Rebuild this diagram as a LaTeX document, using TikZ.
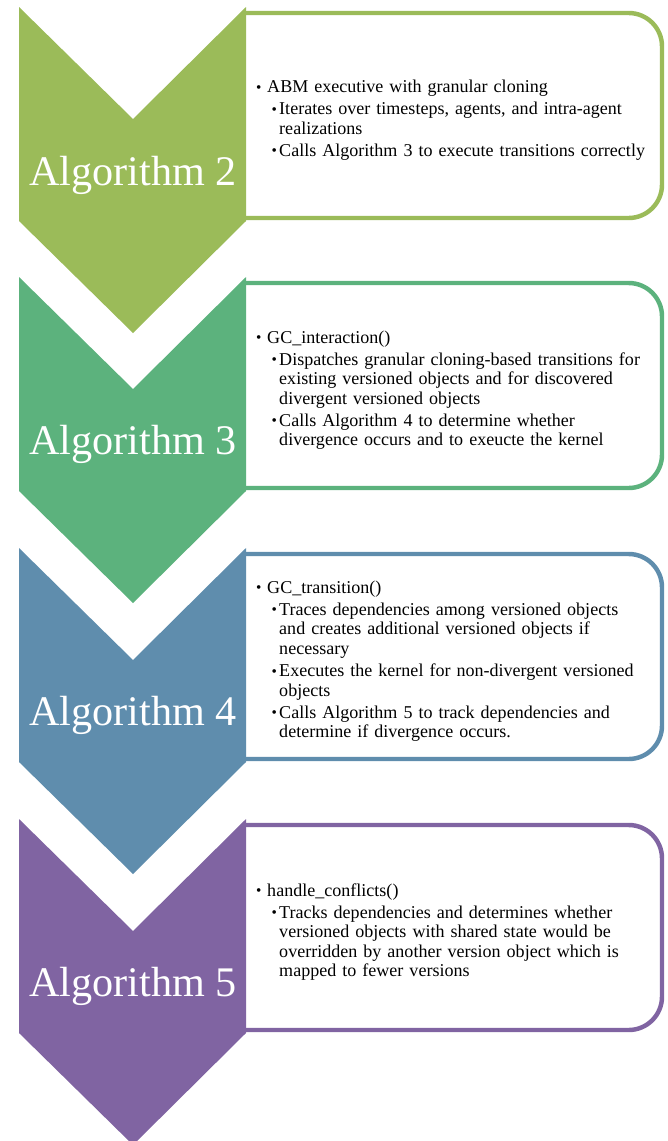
\documentclass[tikz,border=0pt]{standalone}
\usepackage{fontspec}
\setmainfont{Liberation Serif}
\usepackage{tikz}

\definecolor{algtwo}{HTML}{9BBB59}
\definecolor{algthree}{HTML}{5CB27D}
\definecolor{algfour}{HTML}{5F8DAD}
\definecolor{algfive}{HTML}{8064A2}

% bullet levels
\newcommand{\smallbullet}{\raisebox{0.4pt}{\fontsize{13}{13}\selectfont\textbullet}}
\newcommand{\lvlone}[1]{\par\leftskip=0cm\hangindent=0.33cm\hangafter=1\noindent\makebox[0.33cm][l]{\smallbullet}#1\par}
\newcommand{\lvltwo}[1]{\par\leftskip=0.46cm\hangindent=0.23cm\hangafter=1\noindent\makebox[0.23cm][l]{\smallbullet}#1\par}

\begin{document}
\begin{tikzpicture}[x=0.03cm, y=-0.03cm,
  chevron/.style={fill=#1, draw=none},
  listbox/.style={draw=#1, fill=white, line width=3.8pt, rounded corners=1cm},
  alglabel/.style={text=white, font=\fontsize{36}{40}\selectfont, inner sep=0pt, anchor=base},
  bullets/.style={anchor=west, text width=12.2cm, align=left, inner sep=0pt,
    font=\fontsize{15.4}{16.75}\selectfont}]
\useasboundingbox (0,0) rectangle (668,1141);

% Algorithm 2
\draw[listbox=algtwo] (246,13) -- (662,13) -- (662,218) -- (246,218);
\fill[chevron=algtwo] (19,7) -- (133,119) -- (246,7) -- (246,221) -- (133,333) -- (19,221) -- cycle;
\node[alglabel] (alg2) at (133,185) {Algorithm 2};
\node[bullets] (list2) at (256,115.5) {\setlength{\parskip}{2pt}%
  \lvlone{ABM executive with granular cloning}
  \lvltwo{Iterates over timesteps, agents, and intra-agent\newline realizations}
  \lvltwo{Calls Algorithm 3 to execute transitions correctly}};

% Algorithm 3
\draw[listbox=algthree] (246,283) -- (662,283) -- (662,488) -- (246,488);
\fill[chevron=algthree] (19,277) -- (133,389) -- (246,277) -- (246,491) -- (133,603) -- (19,491) -- cycle;
\node[alglabel] (alg3) at (133,454) {Algorithm 3};
\node[bullets] (list3) at (256,385.5) {\setlength{\parskip}{2pt}%
  \lvlone{GC\_interaction()}
  \lvltwo{Dispatches granular cloning-based transitions for\newline existing versioned objects and for discovered\newline divergent versioned objects}
  \lvltwo{Calls Algorithm 4 to determine whether\newline divergence occurs and to exeucte the kernel}};

% Algorithm 4
\draw[listbox=algfour] (246,554) -- (662,554) -- (662,759) -- (246,759);
\fill[chevron=algfour] (19,548) -- (133,660) -- (246,548) -- (246,762) -- (133,874) -- (19,762) -- cycle;
\node[alglabel] (alg4) at (133,725) {Algorithm 4};
\node[bullets] (list4) at (256,656.5) {\setlength{\parskip}{2pt}%
  \lvlone{GC\_transition()}
  \lvltwo{Traces dependencies among versioned objects\newline and creates additional versioned objects if\newline necessary}
  \lvltwo{Executes the kernel for non-divergent versioned\newline objects}
  \lvltwo{Calls Algorithm 5 to track dependencies and\newline determine if divergence occurs.}};

% Algorithm 5
\draw[listbox=algfive] (246,825) -- (662,825) -- (662,1030) -- (246,1030);
\fill[chevron=algfive] (19,819) -- (133,931) -- (246,819) -- (246,1033) -- (133,1145) -- (19,1033) -- cycle;
\node[alglabel] (alg5) at (133,996) {Algorithm 5};
\node[bullets] (list5) at (256,927.5) {\setlength{\parskip}{2pt}%
  \lvlone{handle\_conflicts()}
  \lvltwo{Tracks dependencies and determines whether\newline versioned objects with shared state would be\newline overridden by another version object which is\newline mapped to fewer versions}};
\end{tikzpicture}
\end{document}
